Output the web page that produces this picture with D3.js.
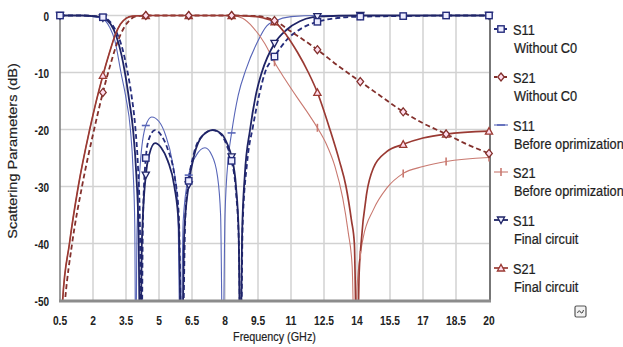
<!DOCTYPE html>
<html><head><meta charset="utf-8">
<script src="https://cdn.jsdelivr.net/npm/d3@7"></script>
<style>body{margin:0;background:#fff;} svg{display:block;}</style>
</head><body><svg id="c" width="623" height="347"></svg>
<script>
// ---- data ----
const xTicks = [0.5, 2, 3.5, 5, 6.5, 8, 9.5, 11, 12.5, 14, 15.5, 17, 18.5, 20];
const yTicks = [0, -10, -20, -30, -40, -50];
const markerFreqs = [0.5, 2.45, 4.4, 6.35, 8.3, 10.25, 12.2, 14.15, 16.1, 18.05, 20];

const s11WithoutC0 = [[0.5,0],[1.5,0],[2.0,-0.1],[2.45,-0.3],[2.8,-1.2],[3.1,-3.2],[3.35,-6],[3.55,-9.5],[3.75,-14],[3.92,-19.5],[4.05,-27],[4.13,-36],[4.2,-62],[4.27,-36],[4.4,-25],[4.55,-21.6],[4.82,-20.1],[5.1,-21],[5.4,-23.5],[5.7,-28],[5.9,-35],[6.05,-62],[6.2,-35],[6.35,-29],[6.6,-24],[7.0,-21],[7.45,-20.1],[7.85,-21],[8.1,-23],[8.3,-25.5],[8.5,-31],[8.63,-40],[8.72,-62],[8.8,-37],[9.0,-26],[9.27,-19.5],[9.55,-14],[9.82,-10],[10.25,-7.2],[10.8,-4.3],[11.5,-2.2],[12.2,-1.1],[13.0,-0.5],[14.15,-0.2],[16.1,-0.1],[18.05,0],[20,0]];
const s21WithoutC0 = [[0.5,-62],[0.73,-50],[1.05,-40],[1.5,-30],[2.05,-20],[2.45,-13.5],[2.8,-8.5],[3.1,-4.8],[3.4,-2.2],[3.7,-0.7],[4.0,-0.1],[4.4,0],[6.35,0],[8.3,0],[9.5,-0.1],[10.25,-0.9],[11.0,-2.8],[12.2,-6],[13.2,-9],[14.15,-11.6],[15.1,-14.2],[16.1,-16.9],[17.0,-18.9],[18.05,-20.8],[19.0,-22.6],[20,-24.2]];
const s11Before = [[0.5,0],[1.5,0],[2.0,-0.2],[2.45,-0.6],[2.75,-2],[3.0,-4.5],[3.27,-10],[3.5,-14.5],[3.7,-20],[3.82,-27],[3.9,-37],[3.94,-62],[4.0,-38],[4.15,-26],[4.4,-19.3],[4.67,-17.8],[5.0,-18.6],[5.3,-21],[5.6,-25.5],[5.85,-33],[5.98,-62],[6.1,-36],[6.35,-28],[6.7,-24.5],[7.09,-23.2],[7.4,-24.5],[7.65,-28],[7.8,-35],[7.9,-62],[8.0,-35],[8.15,-25],[8.3,-20.6],[8.6,-14],[8.95,-9.5],[9.44,-4.9],[9.9,-1.8],[10.25,-1],[11.0,-0.2],[12.2,0],[20,0]];
const s21Before = [[0.5,-62],[0.62,-50],[0.93,-40],[1.33,-30],[1.85,-20],[2.45,-10.5],[2.75,-6.5],[3.0,-3.5],[3.25,-1.5],[3.5,-0.5],[3.8,-0.1],[4.4,0],[6.35,0],[8.3,0],[8.8,-0.5],[9.3,-2.2],[9.82,-5],[10.25,-8.2],[10.7,-11],[11.3,-14.5],[11.8,-17.3],[12.2,-19.7],[12.6,-22.5],[13.0,-26.5],[13.35,-32],[13.6,-38],[13.78,-44],[13.9,-62],[14.0,-48],[14.15,-42],[14.28,-39],[14.74,-34.1],[15.35,-30.3],[16.1,-27.7],[17.0,-26.5],[18.05,-25.6],[20,-24.9]];
const s11Final = [[0.5,0],[1.5,0],[2.0,-0.1],[2.45,-0.4],[2.8,-1.5],[3.05,-3.5],[3.3,-7],[3.45,-10],[3.65,-15],[3.82,-20],[3.97,-28],[4.07,-38],[4.15,-62],[4.22,-40],[4.4,-28],[4.55,-24.5],[4.82,-22.4],[5.1,-23.2],[5.4,-25.5],[5.7,-30],[5.9,-37],[6.03,-62],[6.15,-38],[6.35,-29.7],[6.6,-24.5],[7.0,-21],[7.45,-20.1],[7.85,-20.8],[8.1,-22.5],[8.3,-24.8],[8.5,-30],[8.62,-38],[8.7,-62],[8.78,-38],[8.9,-28],[9.14,-20],[9.4,-14],[9.67,-10],[10.25,-4.9],[10.8,-2.5],[11.4,-1],[12.0,-0.3],[12.2,-0.2],[14.15,0],[20,0]];
const s21Final = [[0.5,-62],[0.62,-50],[0.93,-40],[1.33,-30],[1.85,-20],[2.45,-10.5],[2.75,-6.5],[3.0,-3.5],[3.25,-1.5],[3.5,-0.5],[3.8,-0.1],[4.4,0],[6.35,0],[8.3,0],[9.1,-0.1],[9.7,-0.4],[10.25,-1.1],[10.8,-3.5],[11.3,-6.5],[11.79,-10],[12.2,-13.5],[12.77,-20],[13.2,-25.5],[13.5,-30],[13.75,-36],[13.88,-40],[14.0,-62],[14.1,-45],[14.17,-40.7],[14.44,-31.2],[14.74,-26.8],[15.35,-23.9],[16.1,-22.6],[17.0,-21.5],[18.05,-20.8],[20,-20.3]];

const seriesNames = ["S11", "S21", "S11", "S21", "S11", "S21"];
const seriesSubs = ["Without C0", "Without C0", "Before oprimization", "Before oprimization", "Final circuit", "Final circuit"];

// ---- styles ----
const styles = [
  {data: s11WithoutC0, color: "#252c7c", width: 1.8, dash: "5,3", marker: "square"},
  {data: s21WithoutC0, color: "#83302c", width: 1.8, dash: "5,3", marker: "diamond"},
  {data: s11Before, color: "#5866b8", width: 1.1, dash: null, marker: "hline"},
  {data: s21Before, color: "#c97970", width: 1.1, dash: null, marker: "vline"},
  {data: s11Final, color: "#1f2466", width: 1.8, dash: null, marker: "tridown"},
  {data: s21Final, color: "#9a3a33", width: 1.7, dash: null, marker: "triup"}
];
const drawOrder = [2, 3, 0, 1, 4, 5];
const markerOrder = [2, 3, 4, 5, 1, 0];

const svg = d3.select("#c");
const x = d3.scaleLinear().domain([0.5, 20]).range([60, 489]);
const y = d3.scaleLinear().domain([-50, 0]).range([300.5, 15.5]);
const FONT = "'Liberation Sans', Arial, sans-serif";

svg.append("defs").append("clipPath").attr("id", "clip")
  .append("rect").attr("x", 60).attr("y", 8).attr("width", 430).attr("height", 292.5);

// grid
const grid = svg.append("g");
grid.selectAll("line.v").data(xTicks.slice(1, -1)).join("line")
  .attr("x1", d => x(d)).attr("x2", d => x(d)).attr("y1", y(0)).attr("y2", y(-50))
  .attr("stroke", "#d2d2d2").attr("stroke-width", 1.5);
grid.selectAll("line.h").data(yTicks.slice(0, -1)).join("line")
  .attr("x1", x(0.5)).attr("x2", x(20)).attr("y1", d => y(d)).attr("y2", d => y(d))
  .attr("stroke", "#d2d2d2").attr("stroke-width", 1.5);

// frame
svg.append("line").attr("x1", x(0.5)).attr("x2", x(0.5)).attr("y1", y(0)).attr("y2", y(-50))
  .attr("stroke", "#7a7a7a").attr("stroke-width", 1.5);
svg.append("line").attr("x1", x(20) + 1).attr("x2", x(20) + 1).attr("y1", y(0)).attr("y2", y(-50))
  .attr("stroke", "#4a4a4a").attr("stroke-width", 1.5);

// lines
const line = d3.line().x(d => x(d[0])).y(d => y(d[1])).curve(d3.curveMonotoneX);
const plot = svg.append("g").attr("clip-path", "url(#clip)");
drawOrder.forEach(i => {
  const s = styles[i];
  plot.append("path").attr("d", line(s.data)).attr("fill", "none")
    .attr("stroke", s.color).attr("stroke-width", s.width)
    .attr("stroke-dasharray", s.dash);
});

function drawMarker(g, type, color, cx, cy) {
  if (type === "square") {
    g.append("rect").attr("x", cx - 3.2).attr("y", cy - 3.2).attr("width", 6.4).attr("height", 6.4)
      .attr("fill", "#eef").attr("stroke", color).attr("stroke-width", 1.4);
  } else if (type === "diamond") {
    g.append("path").attr("d", `M${cx},${cy-4}L${cx+3.3},${cy}L${cx},${cy+4}L${cx-3.3},${cy}Z`)
      .attr("fill", "#fde").attr("stroke", color).attr("stroke-width", 1.3);
  } else if (type === "hline") {
    g.append("line").attr("x1", cx - 4).attr("x2", cx + 4).attr("y1", cy).attr("y2", cy)
      .attr("stroke", color).attr("stroke-width", 1.6);
  } else if (type === "vline") {
    g.append("line").attr("x1", cx).attr("x2", cx).attr("y1", cy - 4).attr("y2", cy + 4)
      .attr("stroke", color).attr("stroke-width", 1.6);
  } else if (type === "tridown") {
    g.append("path").attr("d", `M${cx-3.6},${cy-3}L${cx+3.6},${cy-3}L${cx},${cy+3.6}Z`)
      .attr("fill", "#eef").attr("stroke", color).attr("stroke-width", 1.3);
  } else if (type === "triup") {
    g.append("path").attr("d", `M${cx-3.6},${cy+3}L${cx+3.6},${cy+3}L${cx},${cy-3.6}Z`)
      .attr("fill", "#fde").attr("stroke", color).attr("stroke-width", 1.3);
  }
}
const mk = svg.append("g");
markerOrder.forEach(i => {
  const s = styles[i];
  s.data.filter(d => markerFreqs.includes(d[0]) && d[1] >= -50).forEach(d => {
    drawMarker(mk, s.marker, s.color, x(d[0]), y(d[1]));
  });
});

// bottom axis (thick)
svg.append("line").attr("x1", x(0.5) - 1).attr("x2", x(20) + 2).attr("y1", y(-50) + 0.5).attr("y2", y(-50) + 0.5)
  .attr("stroke", "#8c8c8c").attr("stroke-width", 3);

// tick labels
svg.append("g").selectAll("g").data(xTicks).join("g")
  .attr("transform", d => `translate(${x(d)},325)`)
  .append("text").attr("transform", "scale(0.76,1)").attr("text-anchor", "middle")
  .attr("font-family", FONT).attr("font-size", 13.5).attr("font-weight", "bold").attr("fill", "#222")
  .text(d => d);
svg.append("g").selectAll("g").data(yTicks).join("g")
  .attr("transform", d => `translate(49,${y(d) + 5})`)
  .append("text").attr("transform", "scale(0.74,1)").attr("text-anchor", "end")
  .attr("font-family", FONT).attr("font-size", 13.5).attr("font-weight", "bold").attr("fill", "#222")
  .text(d => d);

// axis titles
svg.append("text").attr("transform", `translate(${(x(0.5) + x(20)) / 2},341) scale(0.8,1)`)
  .attr("text-anchor", "middle").attr("font-family", FONT).attr("font-size", 13.5).attr("fill", "#222")
  .attr("stroke", "#222").attr("stroke-width", 0.2)
  .text("Frequency (GHz)");
svg.append("text").attr("transform", "translate(17,151) rotate(-90) scale(1,0.82)")
  .attr("text-anchor", "middle").attr("font-family", FONT).attr("font-size", 14.5).attr("fill", "#222")
  .attr("stroke", "#222").attr("stroke-width", 0.2)
  .text("Scattering Parameters (dB)");

// legend
const legTop = [29, 77, 125, 172, 220, 268];
styles.forEach((s, i) => {
  const g = svg.append("g");
  const cy = legTop[i];
  g.append("line").attr("x1", 494).attr("x2", 508).attr("y1", cy).attr("y2", cy)
    .attr("stroke", s.color).attr("stroke-width", s.width).attr("stroke-dasharray", s.dash ? "3,2" : null);
  drawMarker(g, s.marker, s.color, 501, cy);
  g.append("text").attr("transform", `translate(513,${cy + 5.5}) scale(0.85,1)`)
    .attr("font-family", FONT).attr("font-size", 15).attr("fill", "#1e1e1e")
    .attr("stroke", "#1e1e1e").attr("stroke-width", 0.25).text(seriesNames[i]);
  g.append("text").attr("transform", `translate(514,${cy + 24}) scale(0.85,1)`)
    .attr("font-family", FONT).attr("font-size", 15).attr("fill", "#1e1e1e")
    .attr("stroke", "#1e1e1e").attr("stroke-width", 0.25).text(seriesSubs[i]);
});

// small paste-options icon
const ic = svg.append("g").attr("transform", "translate(575,306)");
ic.append("rect").attr("width", 11).attr("height", 11).attr("rx", 1.5)
  .attr("fill", "#f2f2f2").attr("stroke", "#555").attr("stroke-width", 1.2);
ic.append("path").attr("d", "M2.5,7 Q4,3 5.5,6 T8.5,4").attr("fill", "none").attr("stroke", "#444").attr("stroke-width", 1);
</script></body></html>
